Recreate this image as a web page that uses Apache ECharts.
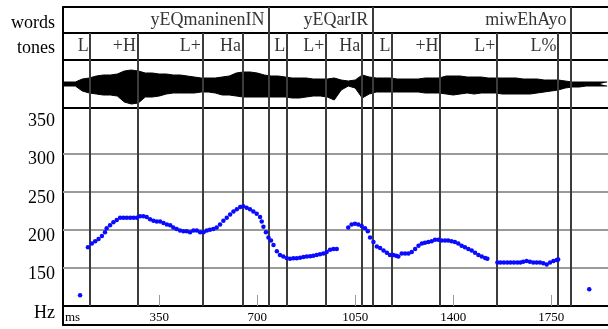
<!DOCTYPE html>
<html><head><meta charset="utf-8">
<script src="https://cdn.jsdelivr.net/npm/echarts@6/dist/echarts.min.js"></script>
<style>html,body{margin:0;padding:0;background:#fff}#c{width:608px;height:329px}</style>
</head><body><div id="c"></div>
<script>
// ---- data ----
const timeMin = 6, timeMax = 1953;           // ms
const timeTicks = [350, 700, 1050, 1400, 1750];
const hzTicksMin = 100, hzTicksMax = 360, hzStep = 50;
const hzGrid = [150, 200, 250, 300];

const wordBounds = [742, 1113, 1821];
const wordLabels = ["yEQmaninenIN", "yEQarIR", "miwEhAyo"];

const toneBounds = [103, 272, 504, 647, 742, 805, 945, 1073, 1113, 1181, 1353, 1556, 1774, 1821];
const toneLabels = ["L", "+H", "L+", "Ha", "", "L", "L+", "Ha", "", "L", "+H", "L+", "L%", ""];

const waveTimes = [6,25,50,75,100,125,150,175,200,225,250,275,300,325,350,375,400,425,450,475,500,
  525,550,575,600,625,650,675,700,725,750,775,800,825,850,875,900,925,950,975,1000,
  1025,1050,1075,1100,1125,1150,1175,1200,1225,1250,1275,1300,1325,1350,1375,1400,1425,1450,1475,1500,
  1525,1550,1575,1600,1625,1650,1675,1700,1725,1750,1775,1800,1825,1850,1875,1900,1925,1950];
const waveUp = [2,2,2,5,6,8,9,9,10,13,14,13,11,11,10,10,9,9,8,7,6,
  6,6,7,8,11,12,12,11,9,8,8,7,6,6,6,5,5,5,6,4,
  3,4,9,7,6,6,6,5,5,5,5,6,6,6,8,8,8,7,7,7,
  6,6,6,6,6,5,5,5,4,4,4,3,2,2,2,2,2,2];
const waveDown = [-2,-2,-2,-7,-9,-10,-11,-11,-12,-18,-20,-19,-13,-13,-12,-10,-9,-9,-9,-9,-8,
  -8,-9,-11,-11,-12,-13,-13,-13,-13,-13,-13,-13,-14,-14,-13,-12,-12,-13,-16,-6,
  -2,-4,-14,-10,-8,-8,-8,-8,-8,-8,-8,-9,-9,-9,-10,-11,-10,-9,-10,-9,
  -9,-9,-10,-10,-10,-10,-10,-9,-8,-7,-6,-4,-3,-3,-2,-2,-2,-2];

const pitchTimes = [67,
  95,109,121,133,145,156,162,174,186,198,210,222,234,246,258,270,281,293,305,317,329,341,353,365,377,389,400,412,424,436,448,460,472,484,496,508,520,531,543,555,567,579,591,603,615,627,639,650,662,674,686,698,710,716,722,731,740,749,758,770,781,793,805,817,829,841,853,865,877,889,900,912,924,936,948,960,972,984,
  1025,1037,1049,1061,1073,1085,1095,1103,1115,1127,1139,1151,1163,1174,1186,1196,1204,1216,1228,1240,1252,1264,1276,1288,1299,1311,1323,1335,1347,1359,1371,1382,1394,1406,1418,1430,1442,1454,1466,1478,1490,1502,1514,1522,
  1558,1569,1581,1593,1605,1617,1629,1640,1650,1662,1674,1686,1698,1710,1722,1734,1746,1758,1770,1775,
  1886];
const pitchHz = [114,
  177,182,185,188,192,197,202,206,210,213,216,216,216,216,216,216,218,218,217,214,212,211,211,209,207,206,203,201,199,198,198,197,199,199,197,197,199,200,201,203,207,212,216,220,224,227,230,231,229,227,224,221,217,211,204,197,190,186,180,172,167,165,163,162,162.6,162.6,163.5,164.5,165,165.3,166,167,168,169,171,174,175,175,
  203,207,208,207,205,202,198,190,184,178,176,173,170,167,167,166,165,169,169,169,171,175,179,182,183,184,185,187,187,186,186,186,185,184,182,179,177,175,173,170,167,165,163,162,
  157,157,157,157,157,157,157,157,158,159,158,157,157,157,156,154.5,157,159,160.5,161,
  122];

// ---- chart ----
const FONT = '"Liberation Serif","Times New Roman",serif';
const LEFT = 63;
const frameLine = {show: true, onZero: false, lineStyle: {color: '#000', width: 2}};
const noAxisBits = {axisTick: {show: false}, axisLabel: {show: false}, splitLine: {show: false}};
const boundColor = '#3c3c3c';

function xAx(gridIndex, position, extra) {
  return Object.assign({type: 'value', gridIndex, position, min: timeMin, max: timeMax,
    axisLine: frameLine}, noAxisBits, extra || {});
}
function yAx(gridIndex, min, max, extra) {
  return Object.assign({type: 'value', gridIndex, min, max, axisLine: frameLine}, noAxisBits, extra || {});
}
function vLines(bounds, z) {
  return {silent: true, symbol: 'none', z: z, animation: false, label: {show: false},
    lineStyle: {color: boundColor, width: 2, type: 'solid'},
    data: bounds.map(b => ({xAxis: b}))};
}
function tierLabels(bounds, labels) {
  return bounds.map((b, i) => [b, 0.5, labels[i]]).filter(d => d[2] !== '');
}

const grids = [
  {left: LEFT, right: 0, top: 7, height: 26},
  {left: LEFT, right: 0, top: 33, height: 27},
  {left: LEFT, right: 0, top: 60, height: 48},
  {left: LEFT, right: 0, top: 108, height: 198},
  {left: LEFT, right: 0, top: 306, height: 19}
].map(g => Object.assign(g, {outerBoundsMode: 'none', containLabel: false}));

const option = {
  animation: false,
  backgroundColor: '#fff',
  grid: grids,
  xAxis: [
    xAx(0, 'bottom'),
    xAx(0, 'top'),
    xAx(1, 'bottom'),
    xAx(2, 'bottom'),
    xAx(3, 'bottom', {
      axisTick: {show: true, inside: true, length: 11, customValues: timeTicks,
        lineStyle: {color: '#9a9a9a', width: 1}},
      axisLabel: {show: true, customValues: timeTicks, margin: 5, formatter: v => String(v),
        fontFamily: FONT, fontSize: 13, color: '#000'}
    }),
    xAx(4, 'bottom')
  ],
  yAxis: [
    yAx(0, 0, 1),
    yAx(1, 0, 1),
    yAx(2, -24, 24),
    yAx(3, hzTicksMin, hzTicksMax, {
      interval: hzStep,
      axisLabel: {show: true, showMinLabel: false, showMaxLabel: false, margin: 8,
        formatter: v => String(v),
        fontFamily: FONT, fontSize: 18, color: '#000', verticalAlign: 'top', lineHeight: 12}
    }),
    yAx(4, 0, 1)
  ],
  series: [
    // words tier
    {type: 'scatter', xAxisIndex: 0, yAxisIndex: 0, symbolSize: 1,
      itemStyle: {color: 'rgba(0,0,0,0)'},
      data: tierLabels(wordBounds, wordLabels),
      label: {show: true, position: 'left', distance: 4, formatter: p => p.data[2],
        fontFamily: FONT, fontSize: 18, color: '#000'},
      markLine: vLines(wordBounds, 3)},
    // tones tier
    {type: 'scatter', xAxisIndex: 2, yAxisIndex: 1, symbolSize: 1,
      itemStyle: {color: 'rgba(0,0,0,0)'},
      data: tierLabels(toneBounds, toneLabels),
      label: {show: true, position: 'left', distance: 1, formatter: p => p.data[2],
        fontFamily: FONT, fontSize: 18, color: '#000'},
      markLine: vLines(toneBounds, 3)},
    // waveform
    {type: 'line', xAxisIndex: 3, yAxisIndex: 2, symbol: 'none', z: 2,
      data: waveTimes.map((t, i) => [t, waveUp[i]]),
      lineStyle: {color: '#000', width: 1}, areaStyle: {color: '#000', opacity: 1}},
    {type: 'line', xAxisIndex: 3, yAxisIndex: 2, symbol: 'none', z: 2,
      data: waveTimes.map((t, i) => [t, waveDown[i]]),
      lineStyle: {color: '#000', width: 1}, areaStyle: {color: '#000', opacity: 1},
      markLine: vLines(toneBounds, 5)},
    // pitch horizontal grid lines
    {type: 'line', xAxisIndex: 4, yAxisIndex: 3, data: [], symbol: 'none',
      markLine: {silent: true, symbol: 'none', z: 1, animation: false, label: {show: false},
        lineStyle: {color: '#9a9a9a', width: 2, type: 'solid'},
        data: hzGrid.map(v => ({yAxis: v}))}},
    // pitch vertical boundary lines
    {type: 'line', xAxisIndex: 4, yAxisIndex: 3, data: [], symbol: 'none',
      markLine: vLines(toneBounds, 2)},
    // pitch track
    {type: 'scatter', xAxisIndex: 4, yAxisIndex: 3, z: 6, symbolSize: 4.5,
      itemStyle: {color: '#0a0aff', opacity: 1},
      data: pitchTimes.map((t, i) => [t, pitchHz[i]])}
  ],
  graphic: [
    {type: 'text', x: 55, y: 23, style: {text: 'words', align: 'right', verticalAlign: 'middle',
      textAlign: 'right', textVerticalAlign: 'middle', font: '18px ' + FONT, fill: '#000'}},
    {type: 'text', x: 55, y: 48, style: {text: 'tones', align: 'right', verticalAlign: 'middle',
      textAlign: 'right', textVerticalAlign: 'middle', font: '18px ' + FONT, fill: '#000'}},
    {type: 'text', x: 55, y: 313, style: {text: 'Hz', align: 'right', verticalAlign: 'middle',
      textAlign: 'right', textVerticalAlign: 'middle', font: '18px ' + FONT, fill: '#000'}},
    {type: 'text', x: 65, y: 318, style: {text: 'ms', align: 'left', verticalAlign: 'middle',
      textAlign: 'left', textVerticalAlign: 'middle', font: '13px ' + FONT, fill: '#000'}}
  ]
};
const chart = echarts.init(document.getElementById('c'), null, {renderer: 'canvas'});
chart.setOption(option);
</script>
</body></html>
